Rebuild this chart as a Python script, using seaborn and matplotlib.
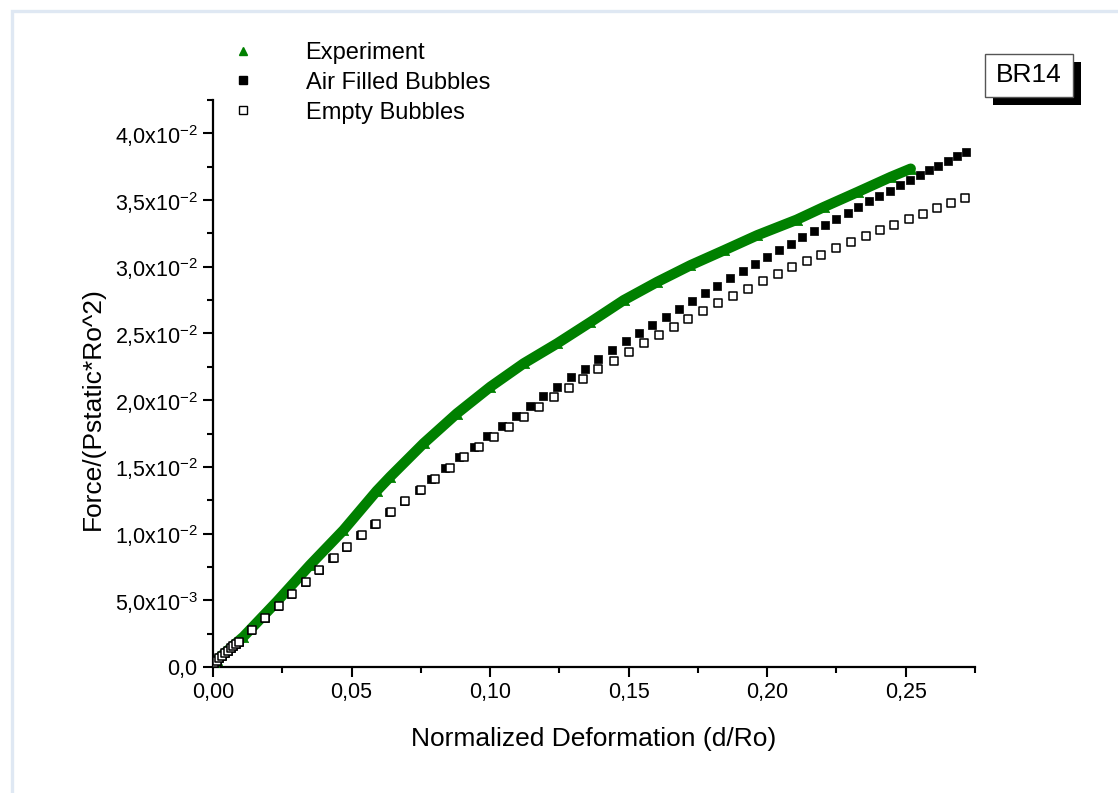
import pandas as pd
import matplotlib.pyplot as plt
from matplotlib.patches import Rectangle
import matplotlib.ticker as mticker
import seaborn as sb

# experiment (green triangles)
exp_x = [0.0002, 0.0013, 0.011, 0.023, 0.035, 0.0471, 0.0591, 0.0639, 0.076, 0.088, 0.1001,
         0.1121, 0.1242, 0.1362, 0.1482, 0.1603, 0.1723, 0.1844, 0.1964, 0.2106,
         0.2205, 0.2326, 0.2446, 0.2518]
exp_y = [0.0004, 0.00052, 0.00227, 0.00489, 0.00764, 0.01026, 0.0132, 0.01425, 0.01676, 0.019, 0.021,
         0.02275, 0.02425, 0.02585, 0.02749, 0.02886, 0.03011, 0.03123, 0.03236, 0.03352,
         0.03448, 0.0356, 0.03673, 0.03735]

# air filled bubbles (black squares)
air_x = [0.0004, 0.0013, 0.0023, 0.0034, 0.0043, 0.0053, 0.0064, 0.0074, 0.0083, 0.0093,
         0.0139, 0.0187, 0.0236, 0.0283, 0.0332, 0.0381, 0.0431, 0.0479, 0.0531, 0.0581,
         0.0637, 0.0690, 0.0742, 0.0787, 0.0838, 0.0889, 0.0941, 0.0989, 0.1043, 0.1092,
         0.1143, 0.1192, 0.1242, 0.1291, 0.1342, 0.1388, 0.1441, 0.1490, 0.1538, 0.1586,
         0.1634, 0.1681, 0.1728, 0.1774, 0.1820, 0.1865, 0.1911, 0.1955, 0.2001, 0.2042,
         0.2085, 0.2124, 0.2168, 0.2209, 0.2250, 0.2291, 0.2329, 0.2368, 0.2405, 0.2442,
         0.2479, 0.2515, 0.2550, 0.2584, 0.2618, 0.2652, 0.2685, 0.2717]
air_y = [0.00028, 0.00047, 0.00065, 0.00085, 0.00103, 0.00122, 0.00140, 0.00157, 0.00175, 0.00190,
         0.00276, 0.00367, 0.00457, 0.00547, 0.00637, 0.00727, 0.00814, 0.00901, 0.00989, 0.01073,
         0.01160, 0.01243, 0.01326, 0.01408, 0.01490, 0.01571, 0.01650, 0.01728, 0.01803, 0.01878,
         0.01953, 0.02028, 0.02100, 0.02170, 0.02237, 0.02307, 0.02377, 0.02440, 0.02504, 0.02567,
         0.02627, 0.02687, 0.02747, 0.02804, 0.02859, 0.02916, 0.02968, 0.03020, 0.03073, 0.03123,
         0.03173, 0.03223, 0.03271, 0.03316, 0.03361, 0.03403, 0.03445, 0.03490, 0.03528, 0.03570,
         0.03610, 0.03648, 0.03687, 0.03723, 0.03758, 0.03795, 0.03827, 0.03860]

# empty bubbles (open squares)
empty_x = [0.0004, 0.0013, 0.0023, 0.0034, 0.0043, 0.0053, 0.0064, 0.0074, 0.0083, 0.0093,
           0.0140, 0.0188, 0.0237, 0.0285, 0.0335, 0.0384, 0.0435, 0.0484, 0.0537, 0.0588,
           0.0641, 0.0694, 0.0750, 0.0801, 0.0854, 0.0907, 0.0961, 0.1015, 0.1068, 0.1121,
           0.1177, 0.1230, 0.1284, 0.1337, 0.1389, 0.1446, 0.1501, 0.1555, 0.1609, 0.1663,
           0.1716, 0.1769, 0.1824, 0.1878, 0.1931, 0.1985, 0.2038, 0.2090, 0.2143, 0.2196,
           0.2248, 0.2302, 0.2355, 0.2406, 0.2458, 0.2510, 0.2562, 0.2613, 0.2665, 0.2715]
empty_y = [0.00028, 0.00047, 0.00065, 0.00085, 0.00103, 0.00122, 0.00140, 0.00157, 0.00175, 0.00190,
           0.00276, 0.00367, 0.00457, 0.00547, 0.00637, 0.00727, 0.00814, 0.00901, 0.00989, 0.01073,
           0.01160, 0.01243, 0.01326, 0.01408, 0.01490, 0.01571, 0.01648, 0.01725, 0.01800, 0.01875,
           0.01947, 0.02022, 0.02090, 0.02162, 0.02230, 0.02297, 0.02362, 0.02427, 0.02489, 0.02552,
           0.02612, 0.02669, 0.02726, 0.02781, 0.02836, 0.02891, 0.02944, 0.02996, 0.03043, 0.03091,
           0.03141, 0.03186, 0.03231, 0.03275, 0.03316, 0.03358, 0.03398, 0.03438, 0.03478, 0.03515]

ytick_vals = [0.0, 0.005, 0.010, 0.015, 0.020, 0.025, 0.030, 0.035, 0.040]
ytick_labels = ["0,0", "5,0x10$^{-3}$", "1,0x10$^{-2}$", "1,5x10$^{-2}$", "2,0x10$^{-2}$",
                "2,5x10$^{-2}$", "3,0x10$^{-2}$", "3,5x10$^{-2}$", "4,0x10$^{-2}$"]
xtick_vals = [0.0, 0.05, 0.10, 0.15, 0.20, 0.25]
xtick_labels = ["0,00", "0,05", "0,10", "0,15", "0,20", "0,25"]

sb.set_style("white")
plt.rcParams["font.family"] = ["Liberation Sans", "DejaVu Sans"]
plt.rcParams["mathtext.fontset"] = "custom"
plt.rcParams["mathtext.rm"] = "Liberation Sans"
plt.rcParams["mathtext.it"] = "Liberation Sans"
plt.rcParams["text.color"] = "black"
plt.rcParams["axes.labelcolor"] = "black"

exp = pd.DataFrame({"x": exp_x, "y": exp_y})
air = pd.DataFrame({"x": air_x, "y": air_y})
empty = pd.DataFrame({"x": empty_x, "y": empty_y})

fig = plt.figure(figsize=(11.18, 7.93), dpi=100)
ax = fig.add_axes([0.1905, 0.1589, 0.6816, 0.715])

# light frame around the page
fig.patches.append(Rectangle((0.0107, -0.1), 1.2, 1.086, transform=fig.transFigure,
                             fill=False, edgecolor="#dfe8f3", linewidth=2.4))

green = "#008000"
sb.lineplot(x="x", y="y", data=exp, ax=ax, sort=False, color=green, linewidth=7.5,
            legend=False, zorder=2)
sb.scatterplot(x="x", y="y", data=exp, ax=ax, marker="^", color=green, s=55,
               edgecolor=green, linewidth=0.5, zorder=3)
sb.scatterplot(x="x", y="y", data=empty, ax=ax, marker="s", facecolor="white",
               edgecolor="black", s=30, linewidth=1.1, zorder=4)
sb.scatterplot(x="x", y="y", data=air, ax=ax, marker="s", color="black",
               edgecolor="black", s=30, linewidth=0.5, zorder=3)

ax.set_xlim(0, 0.275)
ax.set_ylim(0, 0.0425)
ax.set_xticks(xtick_vals)
ax.set_xticklabels(xtick_labels)
ax.set_yticks(ytick_vals)
ax.set_yticklabels(ytick_labels)
ax.xaxis.set_minor_locator(mticker.MultipleLocator(0.025))
ax.yaxis.set_minor_locator(mticker.MultipleLocator(0.0025))
ax.tick_params(which="major", direction="out", length=7, width=1.5, labelsize=15.5,
               bottom=True, left=True, pad=4, colors="black")
ax.tick_params(which="minor", direction="out", length=4, width=1.5, bottom=True, left=True,
               colors="black")
for s in ["top", "right"]:
    ax.spines[s].set_visible(False)
for s in ["left", "bottom"]:
    ax.spines[s].set_linewidth(1.6)
    ax.spines[s].set_color("black")

ax.set_xlabel("Normalized Deformation (d/Ro)", fontsize=19, labelpad=17)
ax.set_ylabel("Force/(Pstatic*Ro^2)", fontsize=19)
ax.yaxis.set_label_coords(-0.142, 0.455)

# legend
h1 = plt.Line2D([], [], marker="^", linestyle="none", color=green, markersize=6)
h2 = plt.Line2D([], [], marker="s", linestyle="none", color="black", markersize=5.5)
h3 = plt.Line2D([], [], marker="s", linestyle="none", markerfacecolor="white",
                markeredgecolor="black", markersize=5.5, markeredgewidth=1)
ax.legend([h1, h2, h3], ["Experiment", "Air Filled Bubbles", "Empty Bubbles"],
          loc="upper left", bbox_to_anchor=(0.191, 0.962), bbox_transform=fig.transFigure,
          frameon=False, fontsize=17, handletextpad=1.9, labelspacing=0.33,
          borderpad=0, handlelength=1.5)

# BR14 box with drop shadow
fig.patches.append(Rectangle((0.8882, 0.8676), 0.0787, 0.0542, transform=fig.transFigure,
                             facecolor="black", edgecolor="none", zorder=1))
fig.patches.append(Rectangle((0.8810, 0.8777), 0.0787, 0.0542, transform=fig.transFigure,
                             facecolor="white", edgecolor="#555555", linewidth=1.0, zorder=2))
fig.text(0.9204, 0.9048, "BR14", fontsize=19, ha="center", va="center", zorder=3)

fig.savefig("out.png", dpi=100)
